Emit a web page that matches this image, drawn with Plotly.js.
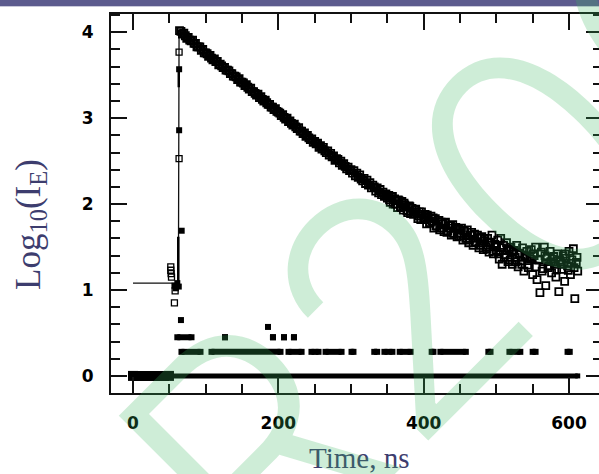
<!DOCTYPE html>
<html><head><meta charset="utf-8">
<script src="https://cdn.plot.ly/plotly-3.0.1.min.js"></script>
<style>html,body{margin:0;padding:0;overflow:hidden;background:#fff}#chart{width:605px;height:474px}</style>
</head><body><div id="chart"></div>
<script>
// Decay data (open squares): time (ns) and log10 counts
const decayT = [64,66,68,70,72,74,76,78,80,82,84,86,88,90,92,94,96,98,100,
102,104,106,108,110,112,114,116,118,120,122,124,126,128,130,132,134,136,138,140,142,144,146,148,150,
152,154,156,158,160,162,164,166,168,170,172,174,176,178,180,182,184,186,188,190,192,194,196,198,200,
202,204,206,208,210,212,214,216,218,220,222,224,226,228,230,232,234,236,238,240,242,244,246,248,250,
252,254,256,258,260,262,264,266,268,270,272,274,276,278,280,282,284,286,288,290,292,294,296,298,300,
302,304,306,308,310,312,314,316,318,320,322,324,326,328,330,332,334,336,338,340,342,344,346,348,350,
352,354,356,358,360,362,364,366,368,370,372,374,376,378,380,382,384,386,388,390,392,394,396,398,400,
402,404,406,408,410,412,414,416,418,420,422,424,426,428,430,432,434,436,438,440,442,444,446,448,450,
452,454,456,458,460,462,464,466,468,470,472,474,476,478,480,482,484,486,488,490,492,494,496,498,500,
502,504,506,508,510,512,514,516,518,520,522,524,526,528,530,532,534,536,538,540,542,544,546,548,550,
552,554,556,558,560,562,564,566,568,570,572,574,576,578,580,582,584,586,588,590,592,594,596,598,600,602,604,606,608,610,612];
const decayY = [4.02,4.01,3.98,3.99,3.96,3.93,3.94,3.91,3.90,3.91,3.87,3.87,3.83,3.83,3.83,3.79,3.80,3.76,3.76,
3.75,3.72,3.73,3.70,3.68,3.69,3.66,3.66,3.62,3.63,3.61,3.59,3.59,3.56,3.56,3.55,3.52,3.52,3.49,3.49,3.48,3.45,3.46,3.42,3.42,
3.41,3.38,3.39,3.36,3.34,3.35,3.31,3.31,3.29,3.27,3.28,3.24,3.25,3.22,3.20,3.21,3.18,3.16,3.16,3.13,3.13,3.10,3.11,3.08,3.07,
3.06,3.03,3.04,3.01,2.99,3.00,2.96,2.97,2.94,2.92,2.93,2.90,2.88,2.89,2.85,2.85,2.82,2.83,2.79,2.80,2.77,2.75,2.76,2.72,2.73,
2.70,2.71,2.66,2.68,2.64,2.66,2.62,2.60,2.62,2.57,2.59,2.55,2.56,2.51,2.53,2.52,2.48,2.50,2.45,2.47,2.44,2.41,2.43,2.39,2.40,
2.36,2.39,2.33,2.36,2.31,2.34,2.29,2.27,2.30,2.24,2.28,2.22,2.25,2.19,2.22,2.20,2.15,2.19,2.13,2.17,2.11,2.14,2.09,2.12,2.07,
2.10,2.02,2.08,2.00,2.06,2.04,1.96,2.04,1.97,2.03,1.93,1.99,1.97,1.90,1.98,1.89,1.95,1.88,1.93,1.91,1.83,1.91,1.82,1.88,1.84,
1.88,1.77,1.85,1.78,1.86,1.80,1.72,1.83,1.74,1.81,1.70,1.79,1.77,1.68,1.79,1.67,1.75,1.72,1.64,1.76,1.66,1.73,1.62,1.71,1.66,
1.72,1.58,1.69,1.60,1.70,1.55,1.64,1.67,1.52,1.65,1.56,1.64,1.49,1.60,1.62,1.47,1.59,1.50,1.60,1.44,1.55,1.64,1.42,1.53,1.46,
1.58,1.36,1.60,1.30,1.52,1.41,1.55,1.33,1.48,1.50,1.30,1.46,1.38,1.52,1.27,1.43,1.34,1.49,1.22,1.40,1.45,1.26,1.38,1.47,1.18,
1.40,1.50,1.12,1.35,0.97,1.44,1.25,1.50,1.05,1.38,1.28,1.45,1.20,1.36,1.30,1.15,1.42,0.98,1.33,1.24,1.40,1.10,1.37,1.28,1.45,1.18,1.35,1.48,0.90,1.32,1.22];
// Interleaved channels of the same decay in the noisier tail
const decayTailT = [353,357,361,365,369,373,377,381,385,389,393,397,401,405,409,413,417,421,425,429,433,437,441,445,449,
451,455,459,463,467,471,475,479,483,487,491,495,499,503,507,511,515,519,523,527,531,535,539,543,547,551,555,559,563,567,571,575,579,583,587,591,595,599,603,607,611];
const decayTailY = [2.05,2.09,2.00,2.05,1.96,2.01,1.92,1.97,1.89,1.94,1.86,1.91,1.82,1.87,1.78,1.84,1.75,1.81,1.72,1.78,1.69,1.75,1.66,1.72,1.63,
1.63,1.69,1.60,1.58,1.64,1.55,1.61,1.52,1.57,1.48,1.55,1.45,1.51,1.42,1.49,1.38,1.46,1.35,1.44,1.33,1.42,1.30,1.39,1.29,1.36,1.42,1.27,1.35,1.22,1.40,1.26,1.33,1.39,1.24,1.35,1.30,1.42,1.23,1.31,1.26,1.38];
// Decay points on the rising edge (open squares)
const riseT = [52,52,52.5,53,58,57,63.4,63.4];
const riseY = [1.27,1.23,1.19,1.15,0.99,0.85,3.77,2.53];
// Decay channels with zero counts (run of open squares at log 0): start, end
const decayZeroRun = [0, 49.5];
// Instrument response (filled squares)
const irfT = [63.5,63.5,67,66,57,59,61,63,185.8];
const irfY = [3.57,2.86,1.69,0.65,1.05,1.02,1.08,1.04,0.57];
const irfZeroRun = [0, 612];
const irfLevel2 = 0.28;
const irf2Start = [66.7,108,214,245.6,265,300.7,332,346,367,411,423,489,518,550,598];
const irf2End   = [92.9,203,232,255.3,287,303.4,336,357,382,413.5,458,492,533,554,601];
const irfLevel3 = 0.45;
const irf3Start = [61,126.6,192.6,207.8,221.5];
const irf3End   = [80.5,126.6,192.6,207.8,221.5];
const irfEdgeT = [63,63,null,62.3,62.3];
const irfEdgeY = [3.36,3.57,null,1.08,1.62];
// Fitted curve
const fitT = [0,62.5,63.4,100,150,200,250,300,350,400,450,500,550,600,612];
const fitY = [1.08,1.08,4.03,3.76,3.42,3.07,2.72,2.39,2.08,1.84,1.66,1.48,1.33,1.28,1.27];
const xTicks = [0,200,400,600];
const yTicks = [0,1,2,3,4];

function runs(starts, ends, level){
  const x=[], y=[];
  for(let i=0;i<starts.length;i++){ x.push(starts[i], ends[i], null); y.push(level, level, null); }
  return {x, y};
}
const r2 = runs(irf2Start, irf2End, irfLevel2);
const r3 = runs(irf3Start, irf3End, irfLevel3);
const r0 = runs([irfZeroRun[0]], [irfZeroRun[1]], 0);
const d0 = runs([decayZeroRun[0]], [decayZeroRun[1]], 0);

const blk = '#000';
const decayMarker = {symbol:'square-open', size:7, color:blk, line:{width:1.8, color:blk}};
const traces = [
  {x: fitT, y: fitY, mode:'lines', line:{color:'#111', width:1.3}, hoverinfo:'skip'},
  {x: r0.x, y: r0.y, mode:'lines+markers', line:{color:blk, width:5}, marker:{symbol:'square', size:5, color:blk}},
  {x: d0.x, y: d0.y, mode:'lines+markers', line:{color:blk, width:10}, marker:{symbol:'square', size:10, color:blk}},
  {x: r2.x, y: r2.y, mode:'lines+markers', line:{color:blk, width:6}, marker:{symbol:'square', size:6, color:blk}},
  {x: r3.x, y: r3.y, mode:'lines+markers', line:{color:blk, width:6}, marker:{symbol:'square', size:6, color:blk}},
  {x: irfEdgeT, y: irfEdgeY, mode:'lines', line:{color:blk, width:2.5}},
  {x: irfT, y: irfY, mode:'markers', marker:{symbol:'square', size:6, color:blk}},
  {x: riseT, y: riseY, mode:'markers', marker:{symbol:'square-open', size:6, color:blk, line:{width:1.3, color:blk}}},
  {x: decayT, y: decayY, mode:'markers', marker:decayMarker},
  {x: decayTailT, y: decayTailY, mode:'markers', marker:decayMarker}
];

const axisCommon = {showgrid:false, zeroline:false, showline:true, linecolor:'#111', linewidth:2,
  mirror:'ticks', ticks:'inside', ticklen:16, tickwidth:2, tickcolor:'#111',
  tickfont:{family:'DejaVu Sans', size:17, color:'#000', weight:'bold'}};
const layout = {
  width:605, height:474, showlegend:false,
  margin:{l:111, r:3, t:14, b:81},
  paper_bgcolor:'#fff', plot_bgcolor:'#fff',
  xaxis: Object.assign({}, axisCommon, {range:[-30.27,645.4], tickvals:xTicks, ticktext:xTicks.map(String),
    minor:{dtick:50, tick0:0, ticks:'inside', ticklen:9, tickwidth:2, tickcolor:'#111'}, ticklabelstandoff:14}),
  yaxis: Object.assign({}, axisCommon, {range:[-0.199,4.213], tickvals:yTicks, ticktext:yTicks.map(String),
    minor:{dtick:0.2, tick0:0, ticks:'inside', ticklen:9, tickwidth:2, tickcolor:'#111'}, ticklabelstandoff:12}),
  shapes:[
    {type:'rect', xref:'paper', yref:'paper', x0:-0.3, x1:1.1, y0:1+8/379, y1:1.06, fillcolor:'#5c5b8e', line:{width:0}, layer:'above'},
    {type:'rect', xref:'paper', yref:'paper', x0:-0.3, x1:1.1, y0:1+7/379, y1:1+8/379, fillcolor:'#c9c9da', line:{width:0}, layer:'above'}
  ],
  annotations:[
    {xref:'paper', yref:'paper', x:(359-111)/491, y:(393-458)/379, xanchor:'center', yanchor:'middle', showarrow:false,
      text:'Time, ns', font:{family:'Liberation Serif', size:29, color:'#3d3d6e'}},
    {xref:'paper', yref:'paper', x:(30-111)/491, y:(393-225)/379, xanchor:'center', yanchor:'middle', showarrow:false,
      textangle:-90, text:'Log<sub>10</sub>(I<sub>E</sub>)', font:{family:'Liberation Serif', size:35, color:'#3d3d6e'}},
    {xref:'paper', yref:'paper', x:(534-111)/491, y:(393-168)/379, xanchor:'center', yanchor:'middle', showarrow:false,
      textangle:-45, text:'R2005', font:{family:'Inter', size:325, weight:300, color:'rgba(60,185,95,0.25)'}}
  ]
};
Plotly.newPlot('chart', traces, layout, {displayModeBar:false, staticPlot:true});
</script></body></html>
